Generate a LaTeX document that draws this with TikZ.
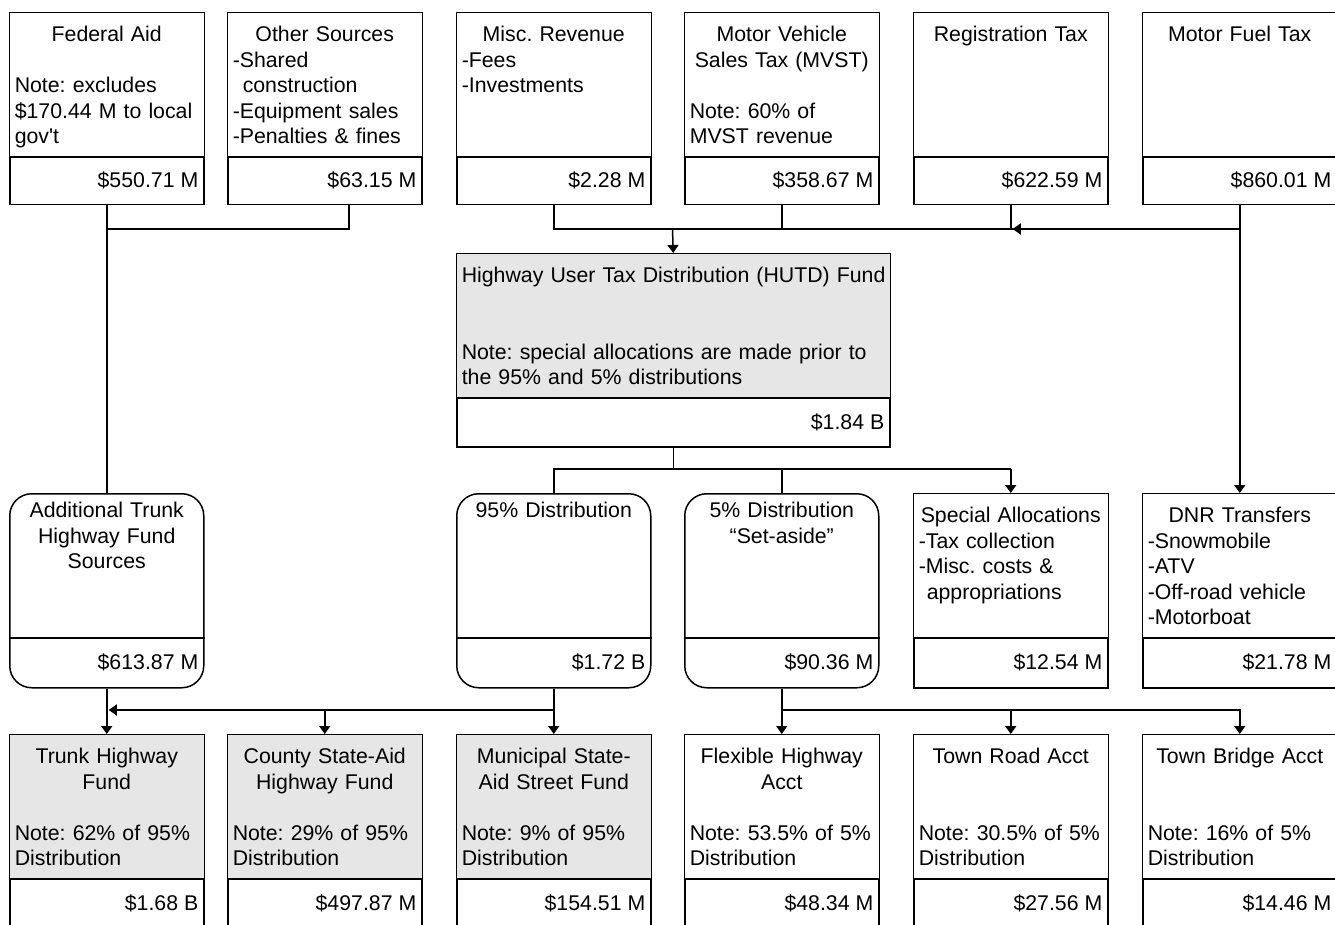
\documentclass[tikz,border=0pt]{standalone}
\usepackage{fontspec}
\setmainfont{Liberation Sans}
\usetikzlibrary{arrows.meta,calc}
\definecolor{hutgray}{HTML}{E6E6E6}
\setlength\parindent{0pt}
\frenchspacing
\tikzset{
 sq/.style={draw, line width=1.5pt, fill=white, inner sep=0pt, anchor=north west},
 rnd/.style={sq, rounded corners=22pt},
 txt/.style={inner sep=0pt, font=\fontsize{21.3pt}{25.4pt}\selectfont\frenchspacing, align=left},
 ln/.style={line width=1.5pt},
 arr/.style={ln, -{Triangle[length=8pt,width=11pt]}},
}
% name, pos, style, upper fill, height, width, text yshift, text, amount
\newcommand\fbx[9]{%
 \node[#3, minimum height=#5, minimum width=#6] (#1) at #2 {};
 \path[fill=#4] ([shift={(0.75pt,-0.75pt)}]#1.north west) rectangle ([shift={(-0.75pt,-145pt)}]#1.north east);
 \draw[ln] ([yshift=-145pt]#1.north west) -- ([yshift=-145pt]#1.north east);
 \pgfmathsetmacro\tw{#6-10}
 \node[txt, anchor=north, text width=\tw pt] (#1-t) at ([yshift=-#7]#1.north) {#8};
 \node[txt, anchor=base east] (#1-a) at ([shift={(-6pt,-176pt)}]#1.north east) {#9};
}
\begin{document}
\begin{tikzpicture}[x=1pt,y=-1pt]
\useasboundingbox (0,0) rectangle (1335,925);
\clip (0,0) rectangle (1335,925);
\fill[white] (0,0) rectangle (1335,925);

% top row
\fbx{fed}{(9,12)}{sq}{white}{192}{194}{12pt}{{\centering\strut Federal Aid\par}\strut\par Note: excludes\\\$170.44 M to local\\gov\textquotesingle t}{\$550.71 M}
\fbx{other}{(227,12)}{sq}{white}{192}{194}{12pt}{{\centering\strut Other Sources\par}-Shared\\\hspace*{10pt}construction\\-Equipment sales\\-Penalties \& fines}{\$63.15 M}
\fbx{misc}{(456,12)}{sq}{white}{192}{194}{12pt}{{\centering\strut Misc. Revenue\par}-Fees\\-Investments}{\$2.28 M}
\fbx{mvst}{(684,12)}{sq}{white}{192}{194}{12pt}{{\centering\strut Motor Vehicle\\Sales Tax (MVST)\par}\strut\par Note: 60\% of\\MVST revenue}{\$358.67 M}
\fbx{reg}{(913,12)}{sq}{white}{192}{194}{12pt}{{\centering\strut Registration Tax\par}}{\$622.59 M}
\fbx{fuel}{(1142,12)}{sq}{white}{192}{194}{12pt}{{\centering\strut Motor Fuel Tax\par}}{\$860.01 M}

% HUTD
\fbx{hutd}{(456,253)}{sq}{hutgray}{193}{433}{12pt}{\strut\mbox{Highway User Tax Distribution (HUTD) Fund}\par\strut\par\strut\par Note: special allocations are made prior to\\the 95\% and 5\% distributions}{\$1.84 B}

% middle row
\fbx{addl}{(9,493)}{rnd}{none}{194}{194}{7pt}{{\centering\strut Additional Trunk\\Highway Fund\\Sources\par}}{\$613.87 M}
\fbx{d95}{(456,493)}{rnd}{none}{194}{194}{7pt}{{\centering\strut 95\% Distribution\par}}{\$1.72 B}
\fbx{d5}{(684,493)}{rnd}{none}{194}{194}{7pt}{{\centering\strut 5\% Distribution\\“Set-aside”\par}}{\$90.36 M}
\fbx{spec}{(913,493)}{sq}{white}{194}{194}{12pt}{{\centering\strut\mbox{Special Allocations}\par}-Tax collection\\-Misc. costs \&\\\hspace*{8pt}appropriations}{\$12.54 M}
\fbx{dnr}{(1142,493)}{sq}{white}{194}{194}{12pt}{{\centering\strut DNR Transfers\par}-Snowmobile\\-ATV\\-Off-road vehicle\\-Motorboat}{\$21.78 M}

% bottom row
\fbx{trunk}{(9,734)}{sq}{hutgray}{220}{194}{12pt}{{\centering\strut Trunk Highway\\Fund\par}\strut\par Note: 62\% of 95\%\\Distribution}{\$1.68 B}
\fbx{county}{(227,734)}{sq}{hutgray}{220}{194}{12pt}{{\centering\strut County State-Aid\\Highway Fund\par}\strut\par Note: 29\% of 95\%\\Distribution}{\$497.87 M}
\fbx{muni}{(456,734)}{sq}{hutgray}{220}{194}{12pt}{{\centering\strut Municipal State-\\Aid Street Fund\par}\strut\par Note: 9\% of 95\%\\Distribution}{\$154.51 M}
\fbx{flex}{(684,734)}{sq}{white}{220}{194}{12pt}{{\centering\strut Flexible Highway\\Acct\par}\strut\par \mbox{Note: 53.5\% of 5\%}\\Distribution}{\$48.34 M}
\fbx{troad}{(913,734)}{sq}{white}{220}{194}{12pt}{{\centering\strut Town Road Acct\par}\strut\par\strut\par \mbox{Note: 30.5\% of 5\%}\\Distribution}{\$27.56 M}
\fbx{tbridge}{(1142,734)}{sq}{white}{220}{194}{12pt}{{\centering\strut Town Bridge Acct\par}\strut\par\strut\par Note: 16\% of 5\%\\Distribution}{\$14.46 M}

% top connectors
\coordinate (tj) at (672.5,229);
\draw[ln] (fed.south) -- (addl.north);
\draw[ln] ([xshift=24pt]other.south) |- (fed.south |- tj);
\draw[ln] (misc.south) |- (fuel.south |- tj);
\draw[ln] (mvst.south) -- (mvst.south |- tj);
\draw[ln] (reg.south) -- (reg.south |- tj);
\draw[arr] (fuel.south |- tj) -- ([xshift=2pt]reg.south |- tj);
\draw[arr] (tj) -- (hutd.north);
\draw[arr] (fuel.south) -- (dnr.north);

% middle connectors
\coordinate (mj) at (672.5,469);
\draw[ln] (hutd.south) -- (hutd.south |- mj);
\draw[ln] (d95.north) |- (spec.north |- mj);
\draw[arr] (spec.north |- mj) -- (spec.north);
\draw[ln] (d5.north) -- (d5.north |- mj);

% bottom connectors
\coordinate (bj) at (0,710);
\draw[arr] (addl.south) -- (trunk.north);
\draw[arr] (d95.south) -- (muni.north);
\draw[arr] (d95.south |- bj) -- ([xshift=2pt]addl.south |- bj);
\draw[arr] (county.north |- bj) -- (county.north);
\draw[arr] (d5.south) -- (flex.north);
\draw[arr] (d5.south |- bj) -| (tbridge.north);
\draw[arr] (troad.north |- bj) -- (troad.north);
\end{tikzpicture}
\end{document}
